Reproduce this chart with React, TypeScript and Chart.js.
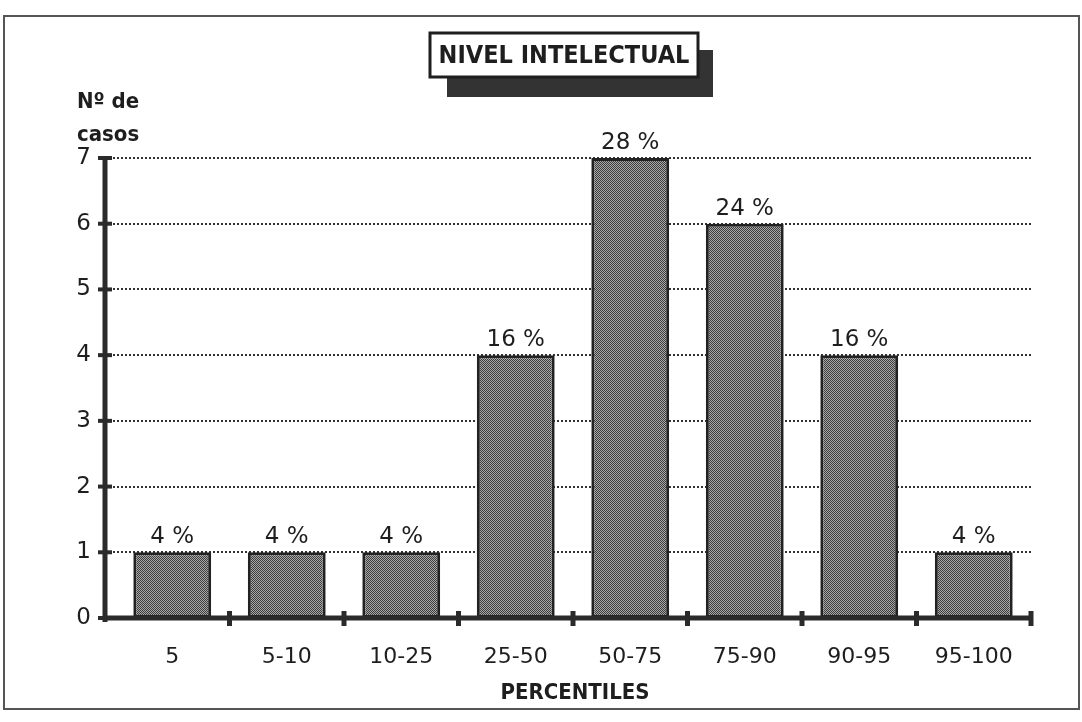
import React, { useEffect, useRef } from "react";
import { Chart, registerables } from "chart.js";

Chart.register(...registerables);

const categories = ["5", "5-10", "10-25", "25-50", "50-75", "75-90", "90-95", "95-100"];
const casos = [1, 1, 1, 4, 7, 6, 4, 1];
const percentLabels = ["4 %", "4 %", "4 %", "16 %", "28 %", "24 %", "16 %", "4 %"];
const yTicks = [0, 1, 2, 3, 4, 5, 6, 7];
const titleText = "NIVEL INTELECTUAL";
const yTitleLines = ["Nº de", "casos"];
const xTitle = "PERCENTILES";

const INK = "#2b2b2b";
const FONT = "'DejaVu Sans', sans-serif";

function makePattern(): CanvasPattern | string {
  const c = document.createElement("canvas");
  c.width = 2;
  c.height = 2;
  const g = c.getContext("2d");
  if (!g) return "#777";
  g.fillStyle = "#a9a9a9";
  g.fillRect(0, 0, 2, 2);
  g.fillStyle = "#3c3c3c";
  g.fillRect(0, 0, 1, 1);
  g.fillRect(1, 1, 1, 1);
  const p = g.createPattern(c, "repeat");
  return p || "#777";
}

const decorPlugin = {
  id: "decor",
  beforeDatasetsDraw(chart: any) {
    const ctx = chart.ctx as CanvasRenderingContext2D;
    const y = chart.scales.y;
    const axisX = 105;
    const right = chart.chartArea.right;
    ctx.save();
    ctx.strokeStyle = "#333";
    ctx.lineWidth = 2;
    ctx.setLineDash([2, 2]);
    for (const v of yTicks) {
      if (v === 0) continue;
      const py = Math.round(y.getPixelForValue(v));
      ctx.beginPath();
      ctx.moveTo(axisX, py);
      ctx.lineTo(right, py);
      ctx.stroke();
    }
    ctx.restore();
  },
  afterDatasetsDraw(chart: any) {
    const ctx = chart.ctx as CanvasRenderingContext2D;
    const y = chart.scales.y;
    const x = chart.scales.x;
    const axisX = 105;
    const right = chart.chartArea.right;
    const y0 = y.getPixelForValue(0);
    const yTop = y.getPixelForValue(7);
    const step = x.getPixelForValue(1) - x.getPixelForValue(0);
    ctx.save();
    // frame
    ctx.strokeStyle = "#555";
    ctx.lineWidth = 2;
    ctx.strokeRect(4, 16, 1075, 693);

    // axes
    ctx.strokeStyle = INK;
    ctx.fillStyle = INK;
    ctx.lineWidth = 5;
    ctx.beginPath();
    ctx.moveTo(axisX, yTop - 2);
    ctx.lineTo(axisX, y0 + 4);
    ctx.stroke();
    ctx.beginPath();
    ctx.moveTo(axisX - 2, y0);
    ctx.lineTo(right + 2, y0);
    ctx.stroke();
    // y tick tabs
    ctx.lineWidth = 4;
    for (const v of yTicks) {
      const py = y.getPixelForValue(v);
      ctx.beginPath();
      ctx.moveTo(axisX - 7, py);
      ctx.lineTo(axisX + 7, py);
      ctx.stroke();
    }
    // x tick tabs at category boundaries
    ctx.lineWidth = 5;
    for (let i = 0; i < categories.length; i++) {
      const px = x.getPixelForValue(i) + step / 2;
      ctx.beginPath();
      ctx.moveTo(px, y0 - 7);
      ctx.lineTo(px, y0 + 8);
      ctx.stroke();
    }

    // data labels
    ctx.fillStyle = "#1e1e1e";
    ctx.font = `23px ${FONT}`;
    ctx.textAlign = "center";
    ctx.textBaseline = "alphabetic";
    const meta = chart.getDatasetMeta(0);
    meta.data.forEach((bar: any, i: number) => {
      ctx.fillText(percentLabels[i], bar.x, bar.y - 9);
    });

    // y title
    ctx.textAlign = "left";
    ctx.font = `bold 22px 'DejaVu Sans Condensed', ${FONT}`;
    ctx.fillText(yTitleLines[0], 77, 108);
    ctx.fillText(yTitleLines[1], 77, 141);

    // x title
    ctx.textAlign = "center";
    ctx.font = `bold 22px 'DejaVu Sans Condensed', ${FONT}`;
    ctx.fillText(xTitle, 575, 699);

    // title box with shadow
    ctx.fillStyle = "#333";
    ctx.fillRect(447, 50, 266, 47);
    ctx.fillStyle = "#fff";
    ctx.fillRect(430, 33, 268, 44);
    ctx.strokeStyle = "#1e1e1e";
    ctx.lineWidth = 3;
    ctx.strokeRect(430, 33, 268, 44);
    ctx.fillStyle = "#1e1e1e";
    ctx.font = `bold 25px 'DejaVu Sans Condensed', ${FONT}`;
    ctx.textBaseline = "middle";
    ctx.fillText(titleText, 564, 56);
    ctx.restore();
  },
};

export default function App() {
  const ref = useRef<HTMLCanvasElement | null>(null);
  useEffect(() => {
    if (!ref.current) return;
    const pattern = makePattern();
    const chart = new Chart(ref.current, {
      type: "bar",
      data: {
        labels: categories,
        datasets: [
          {
            data: casos,
            backgroundColor: pattern as any,
            borderColor: "#222",
            borderWidth: 3,
            borderSkipped: false,
            barPercentage: 0.68,
            categoryPercentage: 1,
          },
        ],
      },
      options: {
        animation: false,
        responsive: false,
        devicePixelRatio: 1,
        layout: { padding: { left: 0, right: 51, top: 158, bottom: 0 } },
        plugins: {
          legend: { display: false },
          title: { display: false },
          tooltip: { enabled: false },
        },
        scales: {
          x: {
            offset: true,
            grid: { display: false, drawTicks: false },
            border: { display: false },
            ticks: {
              color: "#1e1e1e",
              padding: 26,
              font: { family: FONT, size: 22 },
            },
            afterFit: (s: any) => {
              s.height = 104;
            },
          },
          y: {
            min: 0,
            max: 7,
            grid: { display: false, drawTicks: false },
            border: { display: false },
            ticks: {
              stepSize: 1,
              color: "#1e1e1e",
              padding: 24,
              font: { family: FONT, size: 23 },
            },
            afterFit: (s: any) => {
              s.width = 115;
            },
          },
        },
      },
      plugins: [decorPlugin],
    });
    return () => chart.destroy();
  }, []);
  return (
    <div style={{ position: "absolute", left: 0, top: 0, width: 1082, height: 722, background: "#fff" }}>
      <canvas ref={ref} width={1082} height={722} style={{ display: "block" }} />
    </div>
  );
}
